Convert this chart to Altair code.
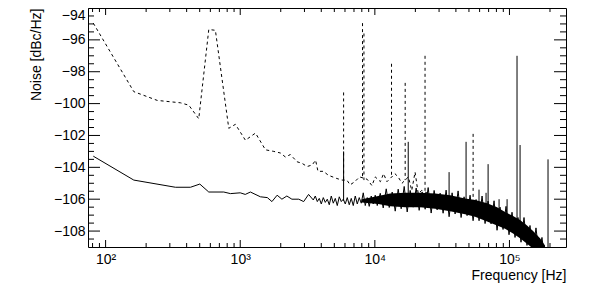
import altair as alt
import pandas as pd

# ---------------- data ----------------
# solid trace
solid_freq = [81, 162, 330, 427, 501, 584, 755, 846, 1000, 1090, 1190, 1413, 1590, 1720, 1880,
              2040, 2220, 2420, 2720, 2960, 3220,
              3490, 3611, 3737, 3867, 4001, 4140, 4284, 4433, 4587, 4747, 4912, 5083, 5259, 5442,
              5631, 5827, 6030, 6239, 6456, 6681, 6913, 7153, 7402, 7659, 7926, 8201, 8486, 8781,
              9087, 9403, 9729, 10068, 10418,
              10970, 11540, 12150, 12790, 13460, 14170, 14910, 15690, 16520, 17390, 18300, 19260,
              20280, 21340, 22460, 23650, 24890, 26200, 27570, 29020, 30550, 32150, 33840, 35620,
              37500, 39470, 41540, 43730, 46020, 48440, 50990, 53670, 56490, 59460, 62590, 65880,
              69340, 72990, 76820, 80860, 85110, 89580, 94290, 99250, 104470, 109960, 115740,
              121820, 128230, 134970, 142060, 149530, 157390, 165660, 174370, 180400]
solid_db = [-103.3, -104.8, -105.25, -105.25, -105.05, -105.55, -105.55, -105.65, -105.6, -105.7,
            -105.55, -105.85, -105.9, -106.15, -105.75, -106.0, -105.8, -106.0, -106.0, -106.15,
            -105.7,
            -106.05, -105.8, -106.15, -105.95, -106.3, -105.9, -106.2, -106.0, -106.35, -105.8,
            -106.25, -105.95, -106.4, -105.85, -106.15, -106.0, -106.3, -105.9, -106.35, -105.95,
            -106.4, -105.8, -106.3, -105.9, -106.25, -105.6, -106.4, -105.9, -106.45, -105.8,
            -106.3, -105.75, -106.4,
            -105.63, -106.55, -105.35, -106.52, -105.55, -106.75, -105.37, -106.6, -105.2, -106.8,
            -105.45, -106.5, -105.3, -106.7, -105.55, -106.63, -105.27, -106.87, -105.45, -106.67,
            -105.62, -106.88, -105.43, -107.1, -105.6, -106.93, -105.48, -107.15, -105.85, -107.03,
            -105.75, -107.35, -106.02, -107.35, -105.8, -107.53, -106.12, -107.55, -106.1, -107.95,
            -106.5, -107.9, -106.45, -108.23, -106.82, -108.4, -107.15, -108.7, -107.15, -108.9,
            -107.65, -109.3, -107.8, -109.4, -108.4, -109.4]

# dense noise band of the solid trace (upper / lower envelope)
band_freq = [8000, 10600, 13010, 16810, 21720, 28070, 36250, 46840, 55560,
             68230, 80910, 92770, 106300, 119800, 135100, 149700, 168700, 183700]
band_hi = [-106.0, -105.8, -105.65, -105.6, -105.6, -105.65, -105.75,
           -105.95, -106.05, -106.25, -106.5, -106.8, -107.05, -107.3, -107.65, -108.0, -108.45,
           -108.9]
band_lo = [-106.2, -106.3, -106.45, -106.5, -106.5, -106.6, -106.75,
           -106.95, -107.1, -107.4, -107.65, -107.85, -108.15, -108.45, -108.8, -109.1, -109.3,
           -109.3]

# dashed trace
dashed_freq = [81, 162, 242, 360, 415, 492, 584, 654, 822, 921, 1093, 1298, 1540, 1775, 1988,
               2165, 2357, 2643, 2880, 3140, 3425, 3630, 3780, 4150, 4520, 5220, 5690, 6200,
               6550, 7100, 7700, 8770, 9520, 10060, 11000, 11600, 12300, 14100, 14900, 15900,
               17750, 18800, 19900, 21000, 22300, 25000, 27500, 30000]
dashed_db = [-94.95, -99.25, -99.8, -99.95, -100.1, -100.95, -95.35, -95.4, -101.55, -101.3,
             -102.3, -101.85, -102.9, -103.0, -103.1, -103.35, -103.2, -103.65, -103.75, -103.95,
             -103.85, -103.55, -104.25, -104.25, -104.5, -104.7, -104.8, -104.8, -105.1, -104.9,
             -104.6, -104.75, -105.15, -104.6, -104.9, -104.4, -104.9, -104.4, -104.6, -105.0,
             -104.6, -105.45, -104.3, -105.65, -105.45, -105.65, -105.8, -106.0]

# narrow lines (spurs)
solid_spike_freq = [5860, 17700, 35600, 47600, 59400, 67000, 69400, 83700, 96000, 113800, 119900, 193400]
solid_spike_top = [-103.0, -102.4, -104.3, -102.4, -105.4, -105.6, -103.8, -106.0, -106.0, -97.0, -102.6, -103.5]
solid_spike_base = [-106.1, -106.0, -106.2, -106.3, -106.5, -106.6, -106.7, -107.0, -107.3, -107.6, -107.8, -109.5]

dashed_spike_freq = [5860, 8100, 8300, 13300, 16800, 23600, 53700]
dashed_spike_top = [-99.3, -94.95, -95.6, -97.5, -98.7, -97.0, -101.9]
dashed_spike_base = [-104.8, -104.7, -104.8, -104.6, -104.8, -105.5, -106.2]

# axes
x_domain = [74, 263000]
y_domain = [-109, -94]
x_major = [100, 1000, 10000, 100000]
x_labels = ["10²", "10³", "10⁴", "10⁵"]
x_minor = [80, 90, 200, 300, 400, 500, 600, 700, 800, 900,
           2000, 3000, 4000, 5000, 6000, 7000, 8000, 9000,
           20000, 30000, 40000, 50000, 60000, 70000, 80000, 90000, 200000]
y_major = [-108, -106, -104, -102, -100, -98, -96, -94]
y_minor = [-108.5, -107.5, -107, -106.5, -105.5, -105, -104.5, -103.5, -103, -102.5, -101.5,
           -101, -100.5, -99.5, -99, -98.5, -97.5, -97, -96.5, -95.5, -95, -94.5]

# ---------------- chart ----------------
W, H = 478, 239
FONT = "Liberation Sans"

xs = alt.Scale(type="log", domain=x_domain, nice=False)
ys = alt.Scale(domain=y_domain, nice=False, zero=False)

label_expr = " : ".join(
    f"datum.value == {v} ? '{t}'" for v, t in zip(x_major, x_labels)) + " : ''"

x_axis = alt.Axis(values=x_major, labelExpr=label_expr, grid=False, ticks=False, tickSize=0,
                  domain=False, labelFont=FONT, labelFontSize=14, labelColor="black",
                  labelPadding=5, labelFlush=False, labelOverlap=False,
                  title="Frequency [Hz]", titleFont=FONT, titleFontSize=14,
                  titleFontWeight="normal", titleColor="black", titleX=W, titleY=28,
                  titleAlign="right", titleBaseline="middle")
y_axis = alt.Axis(values=y_major, format="d", grid=False, ticks=False, tickSize=0, domain=False,
                  labelFont=FONT, labelFontSize=14, labelColor="black", labelPadding=3,
                  labelFlush=1, labelOverlap=False,
                  title="Noise [dBc/Hz]", titleFont=FONT, titleFontSize=14,
                  titleFontWeight="normal", titleColor="black", titleAngle=270, titleX=-52,
                  titleY=0, titleAlign="right", titleBaseline="middle")

X = lambda f: alt.X(f, scale=xs, axis=x_axis)
Y = lambda f: alt.Y(f, scale=ys, axis=y_axis)

solid_df = pd.DataFrame({"f": solid_freq, "v": solid_db})
band_df = pd.DataFrame({"f": band_freq, "hi": band_hi, "lo": band_lo})
dashed_df = pd.DataFrame({"f": dashed_freq, "v": dashed_db})
sspk_df = pd.DataFrame({"f": solid_spike_freq, "top": solid_spike_top, "base": solid_spike_base})
dspk_df = pd.DataFrame({"f": dashed_spike_freq, "top": dashed_spike_top, "base": dashed_spike_base})

solid = alt.Chart(solid_df).mark_line(color="black", strokeWidth=1, clip=True).encode(
    x=X("f:Q"), y=Y("v:Q"))

band = alt.Chart(band_df).mark_area(color="black", opacity=1, clip=True).encode(
    x=X("f:Q"), y=Y("hi:Q"), y2="lo:Q")

dashed = alt.Chart(dashed_df).mark_line(color="black", strokeWidth=1, strokeDash=[3, 3],
                                         clip=True).encode(x=X("f:Q"), y=Y("v:Q"))

sspk = alt.Chart(sspk_df).mark_rule(color="black", strokeWidth=1, clip=True).encode(
    x=X("f:Q"), y=Y("top:Q"), y2="base:Q")

dspk = alt.Chart(dspk_df).mark_rule(color="black", strokeWidth=1, strokeDash=[3, 3],
                                    clip=True).encode(x=X("f:Q"), y=Y("top:Q"), y2="base:Q")


def xticks(vals, length):
    d = pd.DataFrame({"t": vals})
    bot = alt.Chart(d).mark_rule(color="black", strokeWidth=1).encode(
        x=X("t:Q"), y=alt.value(H), y2=alt.value(H - length))
    top = alt.Chart(d).mark_rule(color="black", strokeWidth=1).encode(
        x=X("t:Q"), y=alt.value(0), y2=alt.value(length))
    return [bot, top]


def yticks(vals, length):
    d = pd.DataFrame({"t": vals})
    left = alt.Chart(d).mark_rule(color="black", strokeWidth=1).encode(
        y=Y("t:Q"), x=alt.value(0), x2=alt.value(length))
    right = alt.Chart(d).mark_rule(color="black", strokeWidth=1).encode(
        y=Y("t:Q"), x=alt.value(W), x2=alt.value(W - length))
    return [left, right]


layers = [solid, band, dashed, sspk, dspk] + xticks(x_major, 7) + xticks(x_minor, 4) \
    + yticks(y_major, 12) + yticks(y_minor, 6)

chart = alt.layer(*layers).properties(
    width=W, height=H,
    autosize=alt.AutoSizeParams(type="none"),
    padding={"left": 80, "top": 0, "right": 24, "bottom": 40},
    background="white",
).configure_view(stroke="black", strokeWidth=1)

chart.save("out.html", embed_options={"renderer": "svg", "actions": False})
